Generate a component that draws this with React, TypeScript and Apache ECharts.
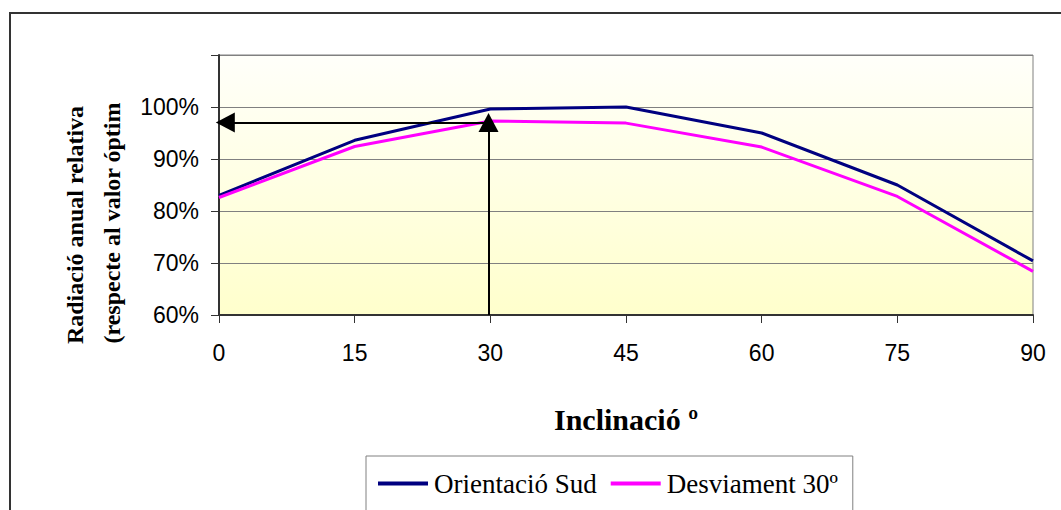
import React, { useEffect, useRef } from "react";
import * as echarts from "echarts";

const inclinations = [0, 15, 30, 45, 60, 75, 90];
const orientacioSud = [83.0, 93.6, 99.6, 100.0, 95.0, 85.0, 70.4];
const desviament30 = [82.6, 92.4, 97.3, 96.9, 92.3, 82.8, 68.4];
const seriesNames = ["Orientació Sud", "Desviament 30º"];
const arrowX = 29.8;
const arrowY = 97.0;
const arrowXEnd = 0.7;
const yMin = 60;
const yMax = 110;
const yAxisTitle = ["Radiació anual relativa", "(respecte al valor óptim"];
const xAxisTitle = "Inclinació º";

export default function App() {
  const ref = useRef<HTMLDivElement>(null);
  useEffect(() => {
    document.body.style.margin = "0";
    const chart = echarts.init(ref.current!, undefined, { renderer: "svg" });
    const serif = "Liberation Serif";
    const sans = "Liberation Sans";
    chart.setOption({
      animation: false,
      backgroundColor: "#ffffff",
      grid: {
        left: 219,
        right: 28,
        top: 55,
        bottom: 195,
        show: true,
        borderColor: "#808080",
        borderWidth: 1,
        backgroundColor: new echarts.graphic.LinearGradient(0, 0, 0, 1, [
          { offset: 0, color: "#FFFFFA" },
          { offset: 1, color: "#FFFFCC" },
        ]),
      },
      xAxis: {
        type: "value",
        min: 0,
        max: 90,
        interval: 15,
        name: xAxisTitle,
        nameLocation: "middle",
        nameGap: 89,
        nameTextStyle: { fontFamily: serif, fontWeight: "bold", fontSize: 30, color: "#000" },
        axisLine: { show: true, lineStyle: { color: "#333", width: 2 } },
        axisTick: { show: true, length: 8, lineStyle: { color: "#333", width: 1 } },
        axisLabel: { fontFamily: sans, fontSize: 23, color: "#000", margin: 26 },
        splitLine: { show: false },
      },
      yAxis: {
        type: "value",
        min: yMin,
        max: yMax,
        interval: 10,
        axisLine: { show: true, lineStyle: { color: "#333", width: 2 } },
        axisTick: { show: true, length: 8, lineStyle: { color: "#333", width: 1 } },
        axisLabel: {
          fontFamily: sans,
          fontSize: 23,
          color: "#000",
          margin: 20,
          formatter: (v: number) => (v >= yMax ? "" : v + "%"),
        },
        splitLine: { show: true, lineStyle: { color: "#808080", width: 1 } },
      },
      legend: {
        left: 366,
        top: 456,
        orient: "horizontal",
        data: seriesNames,
        icon: "rect",
        itemWidth: 50,
        itemHeight: 4,
        itemGap: 14,
        padding: [14, 15, 40, 12],
        borderColor: "#808080",
        borderWidth: 1,
        textStyle: { fontFamily: serif, fontSize: 27, color: "#000", padding: [0, 0, 0, 1] },
      },
      graphic: [
        {
          type: "rect",
          shape: { x: 10, y: 13, width: 1200, height: 700 },
          style: { fill: "none", stroke: "#333", lineWidth: 2 },
          silent: true,
          z: 100,
        },
        {
          type: "text",
          x: 75,
          y: 225,
          rotation: Math.PI / 2,
          style: {
            text: yAxisTitle[0],
            fontFamily: serif,
            fontWeight: "bold",
            fontSize: 24,
            fill: "#000",
            align: "center",
            verticalAlign: "middle",
          },
        },
        {
          type: "text",
          x: 112,
          y: 223,
          rotation: Math.PI / 2,
          style: {
            text: yAxisTitle[1],
            fontFamily: serif,
            fontWeight: "bold",
            fontSize: 24,
            fill: "#000",
            align: "center",
            verticalAlign: "middle",
          },
        },
      ],
      series: [
        {
          name: seriesNames[0],
          type: "line",
          data: inclinations.map((x, i) => [x, orientacioSud[i]]),
          showSymbol: false,
          symbol: "none",
          lineStyle: { color: "#000080", width: 3 },
          itemStyle: { color: "#000080" },
          z: 3,
        },
        {
          name: seriesNames[1],
          type: "line",
          data: inclinations.map((x, i) => [x, desviament30[i]]),
          showSymbol: false,
          symbol: "none",
          lineStyle: { color: "#FF00FF", width: 3 },
          itemStyle: { color: "#FF00FF" },
          z: 3,
          markLine: {
            silent: true,
            symbol: ["none", "triangle"],
            symbolSize: [20, 19],
            label: { show: false },
            lineStyle: { color: "#000", width: 2, type: "solid" },
            emphasis: { disabled: true },
            data: [
              [{ coord: [arrowX, yMin] }, { coord: [arrowX, arrowY] }],
              [{ coord: [arrowX, arrowY] }, { coord: [arrowXEnd, arrowY] }],
            ],
          },
        },
      ],
    });
    return () => chart.dispose();
  }, []);
  return <div ref={ref} style={{ width: 1061, height: 510 }} />;
}
